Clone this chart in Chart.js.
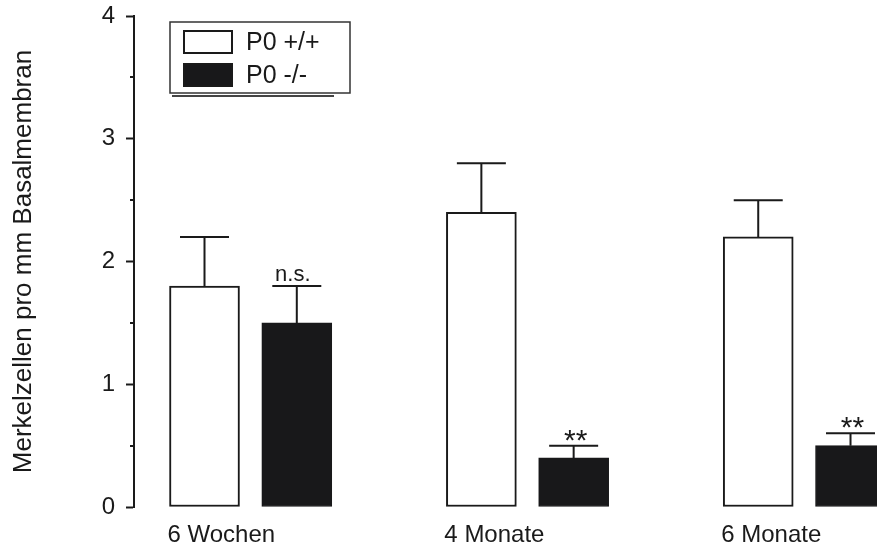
<!DOCTYPE html>
<html>
<head>
<meta charset="utf-8">
<script src="https://cdn.jsdelivr.net/npm/chart.js@4.4.0/dist/chart.umd.min.js"></script>
<style>
  html, body { margin: 0; padding: 0; background: #fff; }
</style>
</head>
<body>
<canvas id="merkelChart" width="877" height="552"></canvas>
<script>
// Data
const groups = ['6 Wochen', '4 Monate', '6 Monate'];
const seriesNames = ['P0 +/+', 'P0 -/-'];
const wildtypeMeans = [1.8, 2.4, 2.2];
const wildtypeErrors = [0.4, 0.4, 0.3];
const knockoutMeans = [1.5, 0.4, 0.5];
const knockoutErrors = [0.3, 0.1, 0.1];
const knockoutMarks = ['n.s.', '**', '**'];
const yTicks = [0, 1, 2, 3, 4];

const fontFamily = '"Liberation Sans", Arial, Helvetica, sans-serif';
const ink = '#1a1a1a';

// every group takes three slots on the x scale: white bar, black bar, gap
const slotOf = (g, s) => g * 3 + 1 + s;

// Error bars + significance marks
const errorBars = {
    id: 'errorBars',
    afterDatasetsDraw(chart) {
        const ctx = chart.ctx;
        const yScale = chart.scales.y;
        ctx.save();
        ctx.strokeStyle = ink;
        ctx.fillStyle = ink;
        ctx.lineWidth = 2;
        chart.data.datasets.forEach((ds, i) => {
            const meta = chart.getDatasetMeta(i);
            meta.data.forEach((bar, j) => {
                const top = yScale.getPixelForValue(ds.data[j].y + ds.errors[j]);
                const half = bar.width * 0.35;
                ctx.beginPath();
                ctx.moveTo(bar.x, bar.y);
                ctx.lineTo(bar.x, top);
                ctx.moveTo(bar.x - half, top);
                ctx.lineTo(bar.x + half, top);
                ctx.stroke();
                if (ds.marks) {
                    const mark = ds.marks[j];
                    ctx.textAlign = 'center';
                    ctx.textBaseline = 'alphabetic';
                    if (mark === 'n.s.') {
                        ctx.font = '22px ' + fontFamily;
                        ctx.fillText(mark, bar.x - 4, top - 5);
                    } else {
                        // asterisks sit high in the font, so the baseline goes below the cap
                        ctx.font = '30px ' + fontFamily;
                        ctx.fillText(mark, bar.x + 2, top + 4);
                    }
                }
            });
        });
        // minor ticks half way between the labelled ones
        for (let k = 0; k < yTicks.length - 1; k++) {
            const py = Math.round(yScale.getPixelForValue((yTicks[k] + yTicks[k + 1]) / 2));
            ctx.beginPath();
            ctx.moveTo(yScale.right - 4, py);
            ctx.lineTo(yScale.right, py);
            ctx.stroke();
        }
        ctx.restore();
    }
};

// Framed legend in the upper left corner of the plot
const boxLegend = {
    id: 'boxLegend',
    afterDraw(chart) {
        const { ctx, chartArea } = chart;
        const left = chartArea.left + 36, top = chartArea.top + 6;
        const w = 180, h = 71;
        ctx.save();
        ctx.fillStyle = '#444';
        ctx.fillRect(left + 2, top + h + 2, w - 18, 2);
        ctx.fillStyle = '#fff';
        ctx.fillRect(left, top, w, h);
        ctx.strokeStyle = '#333';
        ctx.lineWidth = 1.5;
        ctx.strokeRect(left, top, w, h);
        chart.data.datasets.forEach((ds, i) => {
            const y = top + 8 + i * 33;
            ctx.fillStyle = ds.backgroundColor;
            ctx.fillRect(left + 13, y, 50, 24);
            ctx.strokeStyle = ink;
            ctx.lineWidth = 2;
            ctx.strokeRect(left + 14, y + 1, 48, 22);
            ctx.fillStyle = ink;
            ctx.font = '25px ' + fontFamily;
            ctx.textAlign = 'left';
            ctx.textBaseline = 'middle';
            ctx.fillText(ds.label, left + 76, y + 13);
        });
        ctx.restore();
    }
};

const tickFont = { family: fontFamily, size: 24 };

new Chart(document.getElementById('merkelChart').getContext('2d'), {
    type: 'bar',
    data: {
        datasets: [
            {
                label: seriesNames[0],
                data: wildtypeMeans.map((v, g) => ({ x: slotOf(g, 0), y: v })),
                errors: wildtypeErrors,
                backgroundColor: '#ffffff',
                borderColor: ink,
                borderWidth: 2,
                borderSkipped: false,
                grouped: false,
                barThickness: 70
            },
            {
                label: seriesNames[1],
                data: knockoutMeans.map((v, g) => ({ x: slotOf(g, 1), y: v })),
                errors: knockoutErrors,
                marks: knockoutMarks,
                backgroundColor: '#18181a',
                borderColor: '#18181a',
                borderWidth: 1,
                borderSkipped: false,
                grouped: false,
                barThickness: 70
            }
        ]
    },
    options: {
        responsive: false,
        animation: false,
        layout: { padding: { top: 16, bottom: 0, left: 0, right: 0 } },
        plugins: {
            legend: { display: false },
            tooltip: { enabled: false }
        },
        scales: {
            x: {
                type: 'linear',
                min: 0.236,
                max: 8.287,
                offset: false,
                afterBuildTicks: s => { s.ticks = groups.map((g, i) => ({ value: slotOf(i, 0) })); },
                afterFit: s => { s.paddingLeft = 0; s.paddingRight = 0; s.height = 45; },
                ticks: {
                    callback: (v, i) => groups[i],
                    align: 'start',
                    labelOffset: -37,
                    padding: 14,
                    autoSkip: false,
                    maxRotation: 0,
                    font: tickFont,
                    color: ink
                },
                grid: { display: false, drawTicks: false },
                border: { display: false }
            },
            y: {
                min: 0,
                max: 4,
                afterBuildTicks: s => { s.ticks = yTicks.map(v => ({ value: v })); },
                afterFit: s => { s.width = 134; s.paddingTop = 0; s.paddingBottom = 0; },
                ticks: { font: tickFont, color: ink, padding: 11 },
                grid: { drawOnChartArea: false, drawTicks: true, tickLength: 8, tickWidth: 2, tickColor: ink },
                border: { display: true, color: ink, width: 2 },
                title: {
                    display: true,
                    text: 'Merkelzellen pro mm Basalmembran',
                    font: { family: fontFamily, size: 26 },
                    color: ink,
                    padding: { top: 8, bottom: 0 }
                }
            }
        }
    },
    plugins: [errorBars, boxLegend]
});
</script>
</body>
</html>
